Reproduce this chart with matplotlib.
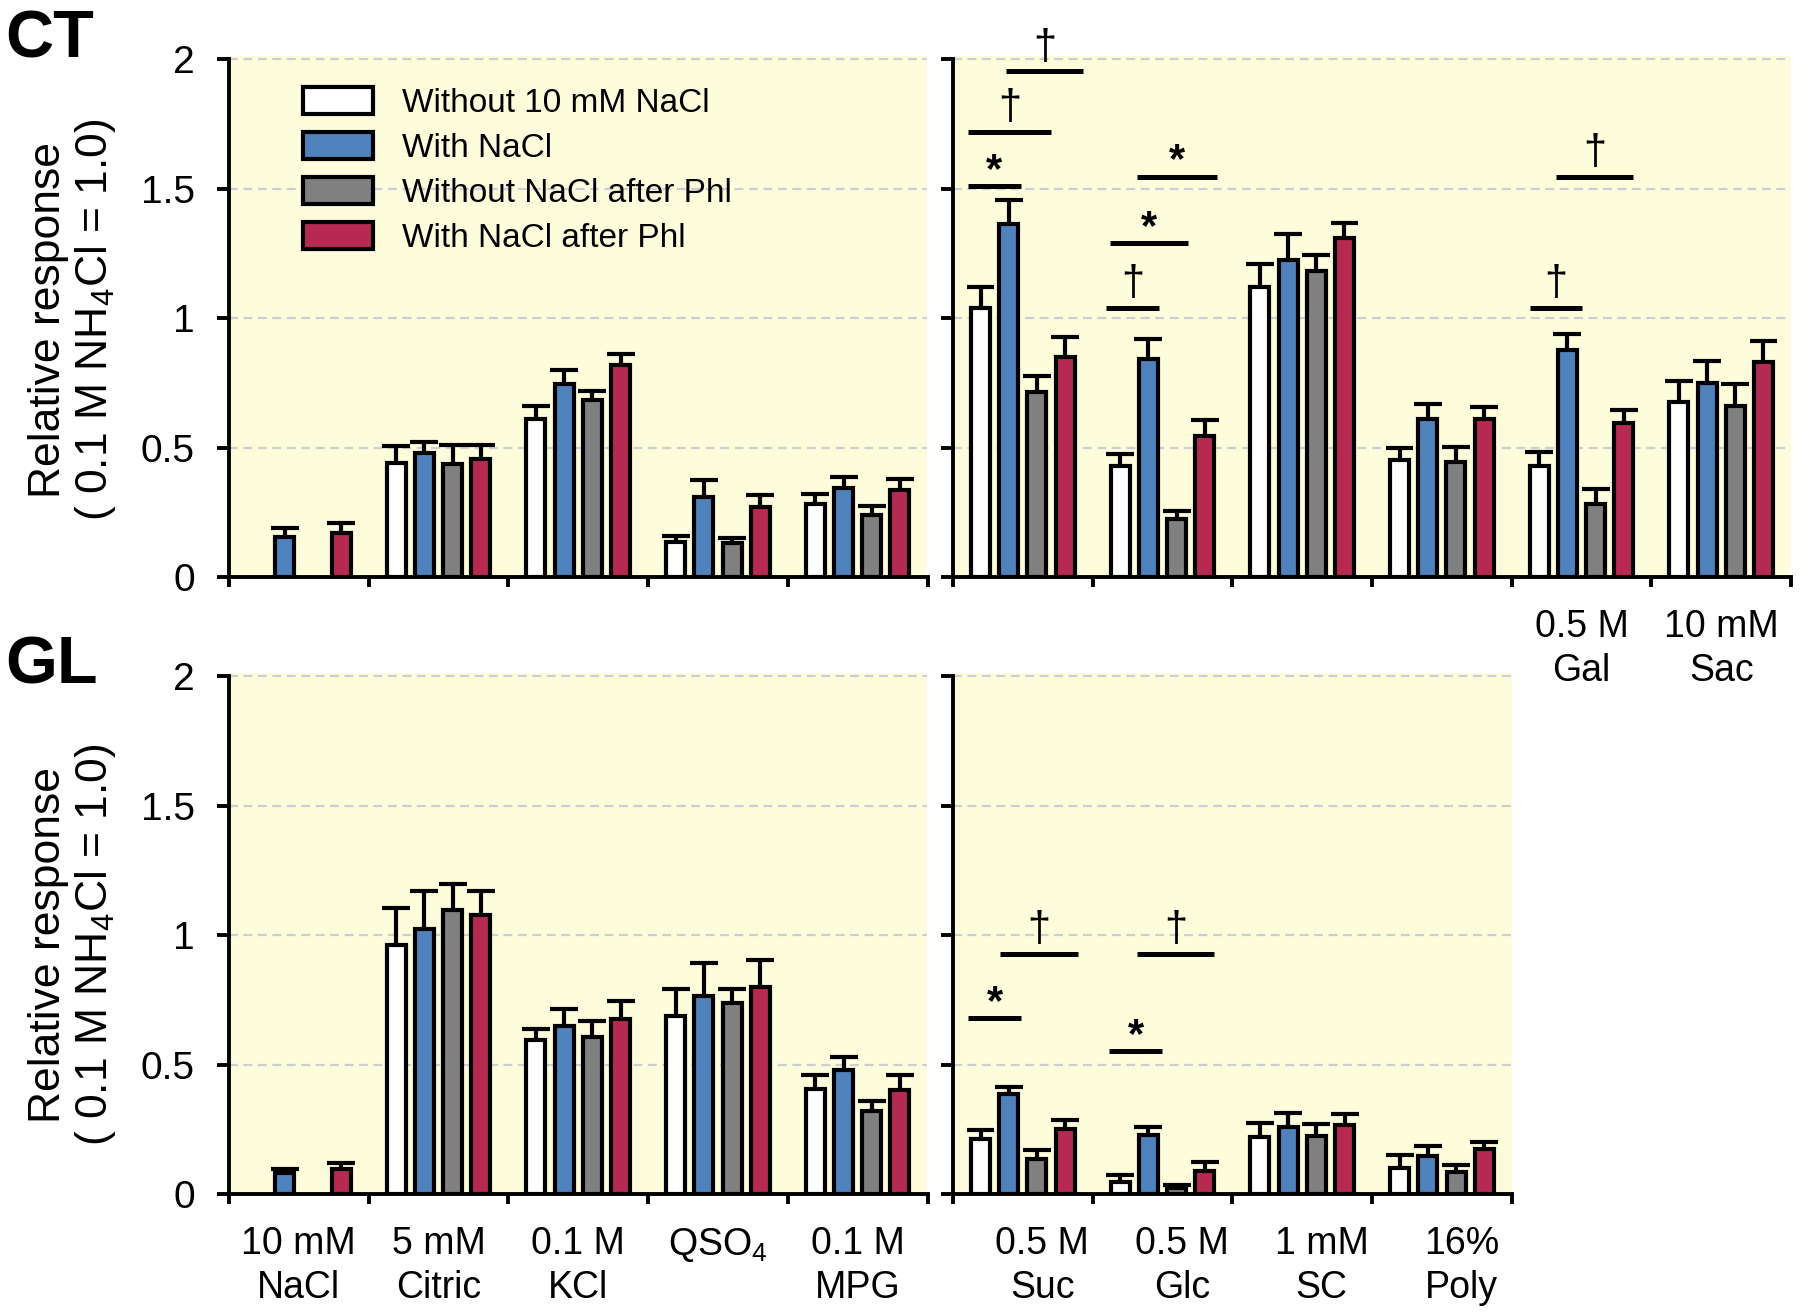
import numpy as np
import matplotlib
matplotlib.use("Agg")
import matplotlib.pyplot as plt
from matplotlib.patches import Patch

plt.rcParams['font.family'] = ['Liberation Sans', 'DejaVu Sans']
plt.rcParams['mathtext.fontset'] = 'custom'
plt.rcParams['mathtext.rm'] = 'Liberation Sans'
plt.rcParams['mathtext.it'] = 'Liberation Sans:italic'
plt.rcParams['mathtext.bf'] = 'Liberation Sans:bold'

nan = np.nan

# --- series ---
series_labels = ["Without 10 mM NaCl", "With NaCl", "Without NaCl after Phl", "With NaCl after Phl"]
series_colors = ['#FFFFFF', '#4F81BD', '#808080', '#B62A52']

# --- stimuli ---
left_labels = ["10 mM\nNaCl", "5 mM\nCitric", "0.1 M\nKCl", "QSO$_4$", "0.1 M\nMPG"]
ct_right_labels = ["", "", "", "", "0.5 M\nGal", "10 mM\nSac"]
gl_right_labels = ["0.5 M\nSuc", "0.5 M\nGlc", "1 mM\nSC", "16%\nPoly"]

# --- CT, left (NaCl, Citric, KCl, QSO4, MPG); rows = series ---
ct_left_mean = [[nan, 0.44, 0.61, 0.135, 0.28],
                [0.155, 0.48, 0.745, 0.31, 0.345],
                [nan, 0.435, 0.685, 0.13, 0.24],
                [0.17, 0.455, 0.82, 0.27, 0.335]]
ct_left_err = [[nan, 0.065, 0.05, 0.025, 0.04],
               [0.035, 0.04, 0.055, 0.065, 0.04],
               [nan, 0.075, 0.035, 0.02, 0.035],
               [0.04, 0.055, 0.04, 0.045, 0.045]]

# --- CT, right (Suc, Glc, SC, Poly, Gal, Sac) ---
ct_right_mean = [[1.04, 0.43, 1.12, 0.45, 0.43, 0.675],
                 [1.365, 0.84, 1.225, 0.61, 0.877, 0.748],
                 [0.714, 0.223, 1.18, 0.446, 0.283, 0.66],
                 [0.85, 0.546, 1.31, 0.61, 0.595, 0.83]]
ct_right_err = [[0.08, 0.046, 0.09, 0.05, 0.053, 0.08],
                [0.09, 0.08, 0.10, 0.06, 0.063, 0.085],
                [0.062, 0.033, 0.065, 0.057, 0.055, 0.087],
                [0.075, 0.06, 0.058, 0.047, 0.049, 0.08]]

# --- GL, left ---
gl_left_mean = [[nan, 0.963, 0.596, 0.686, 0.407],
                [0.082, 1.024, 0.65, 0.765, 0.477],
                [nan, 1.095, 0.606, 0.737, 0.321],
                [0.095, 1.077, 0.675, 0.798, 0.40]]
gl_left_err = [[nan, 0.143, 0.041, 0.107, 0.054],
               [0.013, 0.145, 0.066, 0.129, 0.053],
               [nan, 0.103, 0.064, 0.056, 0.038],
               [0.023, 0.095, 0.069, 0.104, 0.058]]

# --- GL, right (Suc, Glc, SC, Poly) ---
gl_right_mean = [[0.211, 0.046, 0.222, 0.102],
                 [0.387, 0.227, 0.258, 0.148],
                 [0.135, 0.025, 0.225, 0.086],
                 [0.25, 0.09, 0.267, 0.173]]
gl_right_err = [[0.036, 0.028, 0.053, 0.049],
                [0.028, 0.033, 0.055, 0.036],
                [0.033, 0.011, 0.047, 0.026],
                [0.035, 0.033, 0.041, 0.027]]

# --- significance marks: group, span (fraction of group), level, symbol ---
ct_sig_group = [0, 0, 0, 1, 1, 1, 4, 4]
ct_sig_x0 = [0.107, 0.107, 0.38, 0.096, 0.124, 0.32, 0.128, 0.32]
ct_sig_x1 = [0.487, 0.70, 0.932, 0.472, 0.68, 0.89, 0.50, 0.868]
ct_sig_y = [1.51, 1.72, 1.954, 1.04, 1.29, 1.546, 1.04, 1.546]
ct_sig_mark = ['*', '†', '†', '†', '*', '*', '†', '†']

gl_sig_group = [0, 0, 1, 1]
gl_sig_x0 = [0.11, 0.34, 0.12, 0.316]
gl_sig_x1 = [0.49, 0.892, 0.496, 0.868]
gl_sig_y = [0.68, 0.927, 0.551, 0.927]
gl_sig_mark = ['*', '†', '*', '†']

W, H = 1800, 1314
BG = '#FDFDDB'
PITCH = 0.202
BAR_W = 0.136
CAP_W = 0.20


def draw_panel(ax, means, errs, labels, label_shift=0.0, ylabels=True):
    means = np.array(means, dtype=float)
    errs = np.array(errs, dtype=float)
    n = means.shape[1]
    centers = np.arange(n) + 0.5
    for k in range(4):
        x = centers + (k - 1.5) * PITCH
        ok = ~np.isnan(means[k])
        ax.bar(x[ok], means[k][ok], width=BAR_W, color=series_colors[k],
               edgecolor='black', linewidth=3, zorder=3)
        top = means[k][ok] + errs[k][ok]
        ax.vlines(x[ok], means[k][ok], top, color='black', lw=3, zorder=2.5)
        ax.hlines(top, x[ok] - CAP_W / 2, x[ok] + CAP_W / 2, color='black', lw=3, zorder=2.5)

    ax.set_facecolor(BG)
    ax.set_xlim(0, n)
    ax.set_ylim(0, 2.012)
    ax.set_yticks([0, 0.5, 1, 1.5, 2])
    if ylabels:
        ax.set_yticklabels(['0', '0.5', '1', '1.5', '2'])
    else:
        ax.set_yticklabels([])
    ax.tick_params(axis='y', direction='out', length=8.5, width=2.8, labelsize=28, pad=16)
    ax.set_xticks(centers + label_shift)
    ax.set_xticklabels(labels, fontsize=27, linespacing=1.3)
    ax.set_xticks(np.arange(n + 1), minor=True)
    ax.tick_params(axis='x', which='major', length=0, pad=23)
    ax.tick_params(axis='x', which='minor', direction='out', length=7, width=2.8)
    ax.grid(axis='y', color='#CDCDD6', linestyle=(0, (4, 2.5)), linewidth=1.6, zorder=0)
    ax.set_axisbelow(True)
    for s in ['top', 'right']:
        ax.spines[s].set_visible(False)
    for s in ['left', 'bottom']:
        ax.spines[s].set_linewidth(2.8)
        ax.spines[s].set_zorder(4)
    ax.spines['left'].set_bounds(0, 2)


def draw_sig(ax, groups, x0, x1, ys, marks):
    for g, a, b, y, m in zip(groups, x0, x1, ys, marks):
        ax.hlines(y, g + a, g + b, color='black', lw=3.6, zorder=5)
        xc = g + (a + b) / 2
        if m == '*':
            ax.annotate(m, xy=(xc, y), xytext=(0, 3), textcoords='offset points',
                        ha='center', va='baseline', fontsize=30, fontweight='bold',
                        annotation_clip=False)
        else:
            ax.annotate(m, xy=(xc, y), xytext=(0, 9), textcoords='offset points',
                        ha='center', va='baseline', fontsize=30,
                        annotation_clip=False)


fig = plt.figure(figsize=(W / 100, H / 100), dpi=100)

ax_ct_l = fig.add_axes([229 / W, 1 - 577 / H, 698.5 / W, 521 / H])
ax_ct_r = fig.add_axes([953 / W, 1 - 577 / H, 838 / W, 521 / H])
ax_gl_l = fig.add_axes([229 / W, 1 - 1194 / H, 698.5 / W, 521 / H])
ax_gl_r = fig.add_axes([953 / W, 1 - 1194 / H, 558.8 / W, 521 / H])

draw_panel(ax_ct_l, ct_left_mean, ct_left_err, [""] * 5)
draw_panel(ax_ct_r, ct_right_mean, ct_right_err, ct_right_labels, ylabels=False)
draw_panel(ax_gl_l, gl_left_mean, gl_left_err, left_labels)
draw_panel(ax_gl_r, gl_right_mean, gl_right_err, gl_right_labels, label_shift=0.14, ylabels=False)

draw_sig(ax_ct_r, ct_sig_group, ct_sig_x0, ct_sig_x1, ct_sig_y, ct_sig_mark)
draw_sig(ax_gl_r, gl_sig_group, gl_sig_x0, gl_sig_x1, gl_sig_y, gl_sig_mark)

handles = [Patch(facecolor=c, edgecolor='black', linewidth=3) for c in series_colors]
ax_ct_l.legend(handles, series_labels, loc='upper left', bbox_to_anchor=(0.106, 0.94),
               frameon=False, fontsize=24, handlelength=2.1, handleheight=0.84,
               handletextpad=0.87, labelspacing=0.4, borderpad=0, borderaxespad=0)

ylab = "Relative response\n( 0.1 M NH$_4$Cl = 1.0)"
fig.text(73 / W, 1 - 320 / H, ylab, rotation=90, ha='center', va='center',
         fontsize=32, linespacing=1.1)
fig.text(73 / W, 1 - 945 / H, ylab, rotation=90, ha='center', va='center',
         fontsize=32, linespacing=1.1)

fig.text(5 / W, 1 - 58 / H, "CT", fontsize=48, fontweight='bold', va='baseline')
fig.text(5 / W, 1 - 684 / H, "GL", fontsize=48, fontweight='bold', va='baseline')

fig.savefig("out.png", dpi=100)
